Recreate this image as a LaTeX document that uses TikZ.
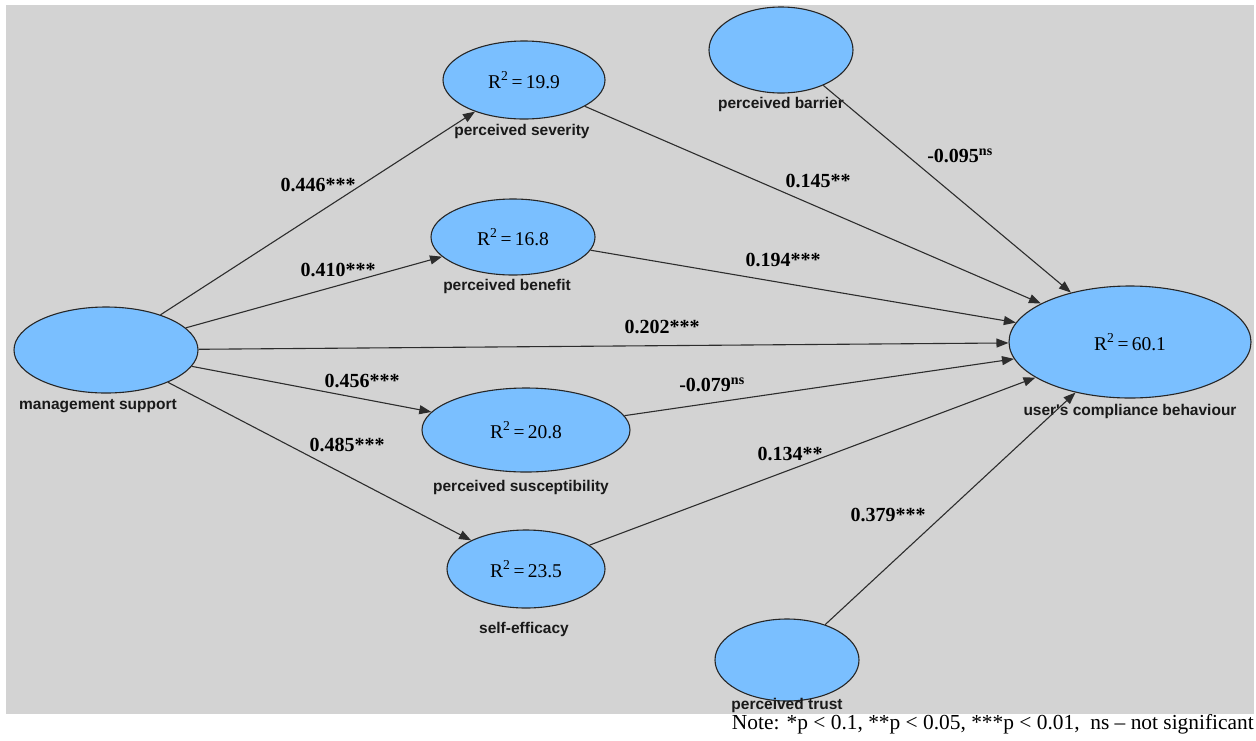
\documentclass[tikz,border=0pt]{standalone}
\usepackage{fontspec}
\setmainfont{Liberation Serif}
\newfontfamily\lsans{Liberation Sans}
\usetikzlibrary{shapes.geometric,arrows.meta}
\definecolor{bggray}{RGB}{211,211,211}
\definecolor{lvblue}{RGB}{122,191,255}
\definecolor{edgegray}{RGB}{45,45,45}
\tikzset{
  lv/.style={ellipse,draw=black!85,line width=1.1pt,fill=lvblue,inner sep=0pt,
    font=\fontsize{19.5}{21}\selectfont},
  lvlabel/.style={font=\lsans\bfseries\fontsize{15.5}{17}\selectfont,text=black!90,inner sep=0pt},
  coef/.style={font=\bfseries\fontsize{20}{22}\selectfont,inner sep=0pt},
  path/.style={draw=edgegray,line width=1.1pt,-{Triangle[length=12pt,width=9pt]}}
}
\begin{document}
\begin{tikzpicture}[x=1pt,y=-1pt]
\useasboundingbox (0,0) rectangle (1256,740);
\fill[bggray] (6,5) rectangle (1254,714);
% latent variables
\node[lv,minimum width=184pt,minimum height=86pt] (ms) at (106,350) {};
\node[lv,minimum width=162pt,minimum height=78pt] (sev) at (524,80) {R\textsuperscript{2}\,=\,19.9};
\node[lv,minimum width=164pt,minimum height=76pt] (ben) at (513,237) {R\textsuperscript{2}\,=\,16.8};
\node[lv,minimum width=208pt,minimum height=84pt] (sus) at (526,430) {R\textsuperscript{2}\,=\,20.8};
\node[lv,minimum width=158pt,minimum height=78pt] (eff) at (526,569) {R\textsuperscript{2}\,=\,23.5};
\node[lv,minimum width=144pt,minimum height=86pt] (bar) at (781,50) {};
\node[lv,minimum width=144pt,minimum height=82pt] (tru) at (787,660) {};
\node[lv,minimum width=242pt,minimum height=112pt] (ucb) at (1130,342) {R\textsuperscript{2}\,=\,60.1};
% labels of latent variables
\node[lvlabel] (msl) at (98,406) {management support};
\node[lvlabel] (sevl) at (522,131) {perceived severity};
\node[lvlabel] (benl) at (507,286) {perceived benefit};
\node[lvlabel] (susl) at (521,487) {perceived susceptibility};
\node[lvlabel] (effl) at (524,629) {self-efficacy};
\node[lvlabel] (barl) at (781,104) {perceived barrier};
\node[lvlabel] (trul) at (787,705) {perceived trust};
\node[lvlabel] (ucbl) at (1130,411) {user's compliance behaviour};
% paths
\draw[path] (ms) -- (sev);
\draw[path] (ms) -- (ben);
\draw[path] (ms) -- (ucb);
\draw[path] (ms) -- (sus);
\draw[path] (ms) -- (eff);
\draw[path] (sev) -- (ucb);
\draw[path] (ben) -- (ucb);
\draw[path] (sus) -- (ucb);
\draw[path] (eff) -- (ucb);
\draw[path] (bar) -- (ucb);
\draw[path] (tru) -- (ucb);
% coefficients
\node[coef] (c1) at (318,185) {0.446***};
\node[coef] (c2) at (338,270) {0.410***};
\node[coef] (c3) at (662,327) {0.202***};
\node[coef] (c4) at (362,381) {0.456***};
\node[coef] (c5) at (347,445) {0.485***};
\node[coef] (c6) at (818,181) {0.145**};
\node[coef] (c7) at (783,260) {0.194***};
\node[coef] (c8) at (712,385) {-0.079\textsuperscript{ns}};
\node[coef] (c9) at (790,454) {0.134**};
\node[coef] (c10) at (960,156) {-0.095\textsuperscript{ns}};
\node[coef] (c11) at (888,515) {0.379***};
% note
\node[anchor=east,inner sep=0pt,font=\fontsize{21.4}{23}\selectfont] (note) at (1254,724)
  {Note: *p < 0.1, **p < 0.05, ***p < 0.01,~ ns -- not significant};
\end{tikzpicture}
\end{document}
